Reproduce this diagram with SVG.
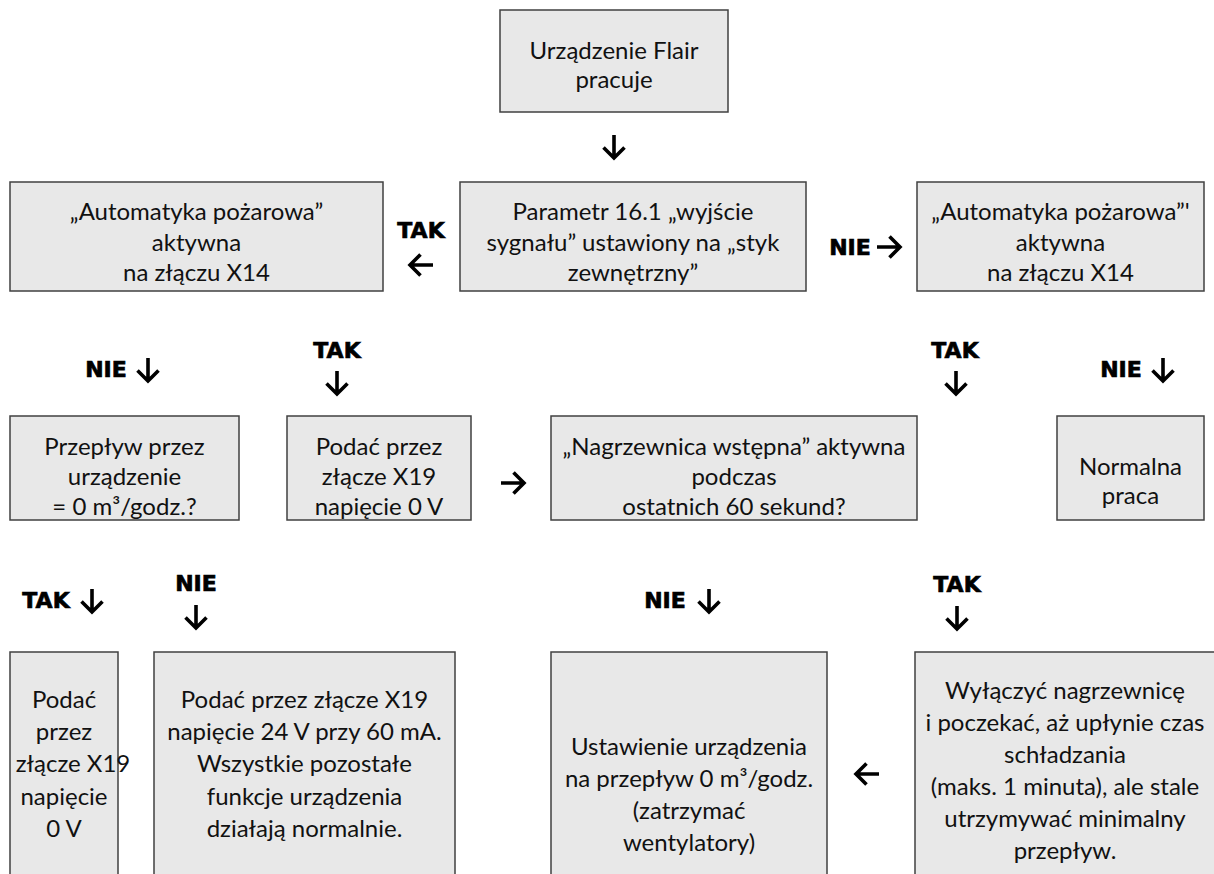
<svg xmlns="http://www.w3.org/2000/svg" xmlns:xlink="http://www.w3.org/1999/xlink" width="1214" height="874" viewBox="0 0 1214 874">
<style>
.box{fill:#e8e8e8;stroke:#404040;stroke-width:1.5}
.t{font-family:Lato,"Open Sans","Liberation Sans",sans-serif;font-size:24px;fill:#111;text-anchor:middle}
.lb{font-family:"DejaVu Sans","Liberation Sans",sans-serif;font-weight:bold;font-size:22px;fill:#000;stroke:#000;stroke-width:0.7;text-anchor:middle}
.ar{fill:none;stroke:#000;stroke-width:3.6;stroke-linecap:butt;stroke-linejoin:miter}
</style>
<defs>
<g id="dn"><path class="ar" d="M0,-12 V11 M-10.5,0.5 L0,11 L10.5,0.5"/></g>
</defs>
<rect width="1214" height="874" fill="#fff"/>

<g id="n-start"><rect class="box" x="500" y="10" width="228" height="102"/>
<text class="t" x="614" y="59">Urządzenie Flair</text><text class="t" x="614" y="88">pracuje</text></g>

<g id="n-fire-left"><rect class="box" x="10" y="182" width="373" height="109"/>
<text class="t" x="196.5" y="220">„Automatyka pożarowa”</text><text class="t" x="196.5" y="251">aktywna</text><text class="t" x="196.5" y="281">na złączu X14</text></g>

<g id="n-param"><rect class="box" x="460" y="182" width="346" height="109"/>
<text class="t" x="633" y="220">Parametr 16.1 „wyjście</text><text class="t" x="633" y="251">sygnału” ustawiony na „styk</text><text class="t" x="633" y="281">zewnętrzny”</text></g>

<g id="n-fire-right"><rect class="box" x="917" y="182" width="287" height="109"/>
<text class="t" x="1060.5" y="220">„Automatyka pożarowa”'</text><text class="t" x="1060.5" y="251">aktywna</text><text class="t" x="1060.5" y="281">na złączu X14</text></g>

<g id="n-flow"><rect class="box" x="10" y="416" width="229" height="104"/>
<text class="t" x="124.5" y="455">Przepływ przez</text><text class="t" x="124.5" y="485">urządzenie</text><text class="t" x="124.5" y="515">= 0 m³/godz.?</text></g>

<g id="n-x19-0v-a"><rect class="box" x="287" y="416" width="184" height="104"/>
<text class="t" x="379" y="455">Podać przez</text><text class="t" x="379" y="485">złącze X19</text><text class="t" x="379" y="515">napięcie 0 V</text></g>

<g id="n-preheater"><rect class="box" x="551" y="416" width="366" height="104"/>
<text class="t" x="734" y="455">„Nagrzewnica wstępna” aktywna</text><text class="t" x="734" y="485">podczas</text><text class="t" x="734" y="515">ostatnich 60 sekund?</text></g>

<g id="n-normal"><rect class="box" x="1057" y="416" width="147" height="104"/>
<text class="t" x="1130.5" y="475">Normalna</text><text class="t" x="1130.5" y="504">praca</text></g>

<g id="n-x19-0v-b"><rect class="box" x="10" y="652" width="108" height="240"/>
<text class="t" x="64" y="708">Podać</text><text class="t" x="64" y="740">przez</text><text class="t" x="73" y="772">złącze X19</text><text class="t" x="64" y="805">napięcie</text><text class="t" x="64" y="837">0 V</text></g>

<g id="n-x19-24v"><rect class="box" x="154" y="652" width="301" height="240"/>
<text class="t" x="304.5" y="708">Podać przez złącze X19</text><text class="t" x="304.5" y="740">napięcie 24 V przy 60 mA.</text><text class="t" x="304.5" y="772">Wszystkie pozostałe</text><text class="t" x="304.5" y="805">funkcje urządzenia</text><text class="t" x="304.5" y="837">działają normalnie.</text></g>

<g id="n-stop"><rect class="box" x="551" y="652" width="276" height="240"/>
<text class="t" x="689" y="755">Ustawienie urządzenia</text><text class="t" x="689" y="787">na przepływ 0 m³/godz.</text><text class="t" x="689" y="819">(zatrzymać</text><text class="t" x="689" y="851">wentylatory)</text></g>

<g id="n-cooldown"><rect class="box" x="915" y="652" width="320" height="240"/>
<text class="t" x="1065" y="699">Wyłączyć nagrzewnicę</text><text class="t" x="1065" y="731">i poczekać, aż upłynie czas</text><text class="t" x="1065" y="763">schładzania</text><text class="t" x="1065" y="795">(maks. 1 minuta), ale stale</text><text class="t" x="1065" y="827">utrzymywać minimalny</text><text class="t" x="1065" y="859">przepływ.</text></g>

<g id="connectors">
<use xlink:href="#dn" transform="translate(614,147)"/>
<text class="lb" x="421" y="238">TAK</text>
<use xlink:href="#dn" transform="translate(421,265) rotate(90)"/>
<text class="lb" x="850" y="255">NIE</text>
<use xlink:href="#dn" transform="translate(889,247) rotate(-90)"/>
<text class="lb" x="106" y="377">NIE</text>
<use xlink:href="#dn" transform="translate(148,370)"/>
<text class="lb" x="337" y="358">TAK</text>
<use xlink:href="#dn" transform="translate(337,383)"/>
<text class="lb" x="955" y="358">TAK</text>
<use xlink:href="#dn" transform="translate(956,383)"/>
<text class="lb" x="1121" y="377">NIE</text>
<use xlink:href="#dn" transform="translate(1163,370)"/>
<use xlink:href="#dn" transform="translate(513,483) rotate(-90)"/>
<text class="lb" x="46" y="608">TAK</text>
<use xlink:href="#dn" transform="translate(92,601)"/>
<text class="lb" x="196" y="591">NIE</text>
<use xlink:href="#dn" transform="translate(196,617)"/>
<text class="lb" x="665" y="608">NIE</text>
<use xlink:href="#dn" transform="translate(709,601)"/>
<text class="lb" x="957" y="592">TAK</text>
<use xlink:href="#dn" transform="translate(957,618)"/>
<use xlink:href="#dn" transform="translate(867,774) rotate(90)"/>
</g>
</svg>
